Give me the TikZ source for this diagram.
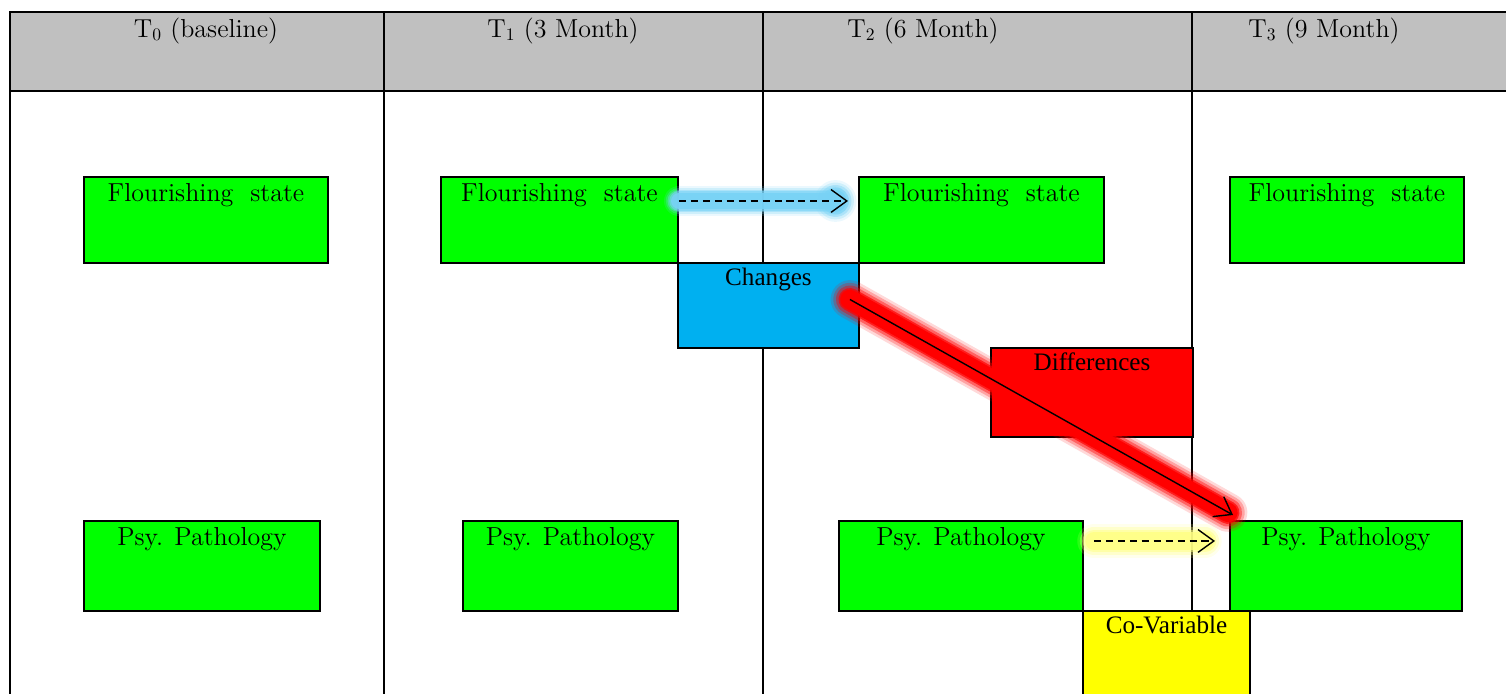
\documentclass[tikz,border=0pt]{standalone}
\usepackage{fontspec}
\newfontfamily\timesfont{Liberation Serif}
\usetikzlibrary{arrows.meta}
\definecolor{hdrgray}{RGB}{192,192,192}
\definecolor{boxgreen}{RGB}{0,255,0}
\definecolor{boxblue}{RGB}{0,176,240}
\definecolor{boxred}{RGB}{255,0,0}
\definecolor{boxyellow}{RGB}{255,255,0}
\definecolor{glowblue}{RGB}{120,210,245}
\definecolor{glowred}{RGB}{255,0,0}
\definecolor{glowyellow}{RGB}{255,255,130}

\tikzset{
  tline/.style={line width=1.1pt},
  box/.style 2 args={draw, line width=1.1pt, anchor=north west, inner sep=0pt,
    minimum width=#1*0.02cm, minimum height=#2*0.02cm},
  gbox/.style 2 args={box={#1}{#2}, fill=boxgreen},
  cambria/.style={font=\fontsize{14.8}{17}\selectfont},
  tlbl/.style={anchor=north, inner sep=3.8pt, cambria},
  nlbl/.style={anchor=north, inner sep=3.2pt, font=\timesfont\fontsize{14.3}{17}\selectfont},
  hdr/.style={anchor=base, inner sep=0pt, cambria},
  flow/.style={->, line width=0.8pt, dash pattern=on 4pt off 2.8pt},
}

\begin{document}
\begin{tikzpicture}[x=0.02cm, y=-0.02cm, >={Straight Barb[length=9pt,width=13pt]}]
\useasboundingbox (0,0) rectangle (1506,693);
\clip (0,0) rectangle (1506,693);

% table
\fill[hdrgray] (10,12) rectangle (1515,91);
\draw[tline] (10,700) -- (10,12) -- (1515,12);
\draw[tline] (10,91) -- (1515,91);
\foreach \x in {384,763,1192}
  \draw[tline] (\x,12) -- (\x,700);

\node[hdr] (h0) at (206,37) {T$_0$ (baseline)};
\node[hdr] (h1) at (563,37) {T$_1$ (3 Month)};
\node[hdr] (h2) at (923,37) {T$_2$ (6 Month)};
\node[hdr] (h3) at (1324,37) {T$_3$ (9 Month)};

% boxes
\node[gbox={244}{86}, label={[tlbl]north:Flourishing~ state}] (f0) at (83,176) {};
\node[gbox={237}{86}, label={[tlbl]north:Flourishing~ state}] (f1) at (440,176) {};
\node[gbox={245}{86}, label={[tlbl]north:Flourishing~ state}] (f2) at (858,176) {};
\node[gbox={234}{86}, label={[tlbl]north:Flourishing~ state}] (f3) at (1229,176) {};

\node[box={181}{85}, fill=boxblue, label={[nlbl]north:Changes}] (ch) at (677,262) {};
\node[box={202}{89}, fill=boxred, label={[nlbl]north:Differences}] (df) at (990,347) {};

\node[gbox={236}{90}, label={[tlbl]north:Psy. Pathology}] (p0) at (83,520) {};
\node[gbox={215}{90}, label={[tlbl]north:Psy. Pathology}] (p1) at (462,520) {};
\node[gbox={244}{90}, label={[tlbl]north:Psy. Pathology}] (p2) at (838,520) {};
\node[gbox={232}{90}, label={[tlbl]north:Psy. Pathology}] (p3) at (1229,520) {};

\node[box={167}{100}, fill=boxyellow, label={[nlbl]north:Co-Variable}] (cv) at (1082,610) {};

% arrow ends
\coordinate (bs) at ([yshift=0.38cm]f1.east);
\coordinate (be) at ([xshift=-0.2cm,yshift=0.38cm]f2.west);
\coordinate (rs) at ([xshift=-0.2cm,yshift=0.12cm]ch.east);
\coordinate (re) at ([xshift=0.08cm,yshift=0.1cm]p3.north west);
\coordinate (ys) at ([xshift=0.2cm,yshift=0.5cm]p2.east);
\coordinate (ye) at ([xshift=-0.28cm,yshift=0.5cm]p3.west);

% glow
\foreach \w/\o in {17/0.15,15/0.25,13/0.4,11/0.6,9/0.9}{
  \draw[glowblue, line width=\w pt, opacity=\o, line cap=round] (bs) -- ([xshift=-0.3cm]be);
  \fill[glowblue, opacity=\o] ([xshift=-0.25cm]be) circle (0.7*\w pt);
}
\foreach \w/\o in {22/0.15,19/0.25,16/0.4,13/0.7,11/1}
  \draw[glowred, line width=\w pt, opacity=\o, line cap=round] (rs) -- ([xshift=-0.1cm,yshift=0.05cm]re);
\foreach \w/\o in {19/0.15,16/0.3,13/0.5,10/0.8}
  \draw[glowyellow, line width=\w pt, opacity=\o, line cap=round] (ys) -- ([xshift=-0.2cm]ye);

% arrows
\draw[flow] (bs) -- (be);
\draw[->, line width=0.8pt] (rs) -- (re);
\draw[flow] (ys) -- (ye);
\end{tikzpicture}
\end{document}
